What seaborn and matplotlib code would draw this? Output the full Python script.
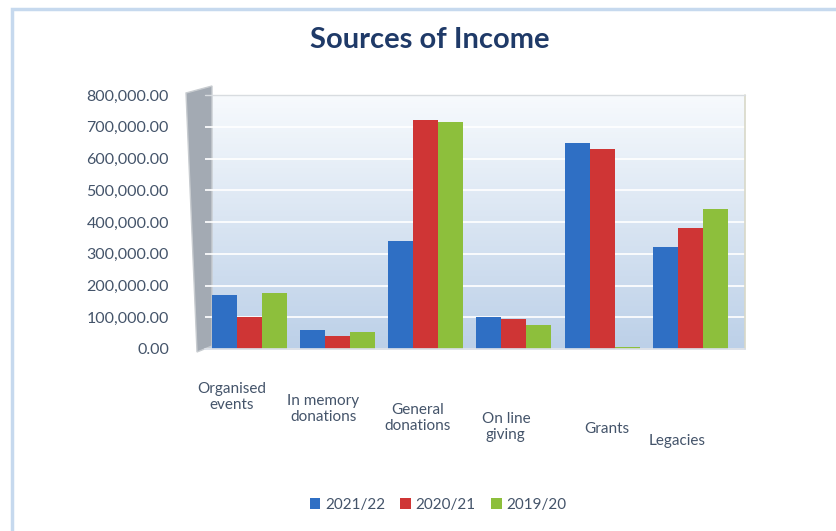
import numpy as np
import pandas as pd
import matplotlib
matplotlib.use("Agg")
import matplotlib.pyplot as plt
import matplotlib.transforms as mtransforms
from matplotlib.patches import Polygon, Rectangle
from matplotlib.ticker import FuncFormatter
import seaborn as sns

# ---- data ----
categories = ["Organised\nevents", "In memory\ndonations", "General\ndonations",
              "On line\ngiving", "Grants", "Legacies"]
years = ["2021/22", "2020/21", "2019/20"]
v_2021_22 = [170000, 60000, 340000, 100000, 650000, 320000]
v_2020_21 = [100000, 40000, 720000, 95000, 630000, 380000]
v_2019_20 = [175000, 55000, 715000, 75000, 5000, 440000]
y_ticks = [0, 100000, 200000, 300000, 400000, 500000, 600000, 700000, 800000]

df = pd.DataFrame({
    "category": categories * 3,
    "year": [years[0]] * 6 + [years[1]] * 6 + [years[2]] * 6,
    "value": v_2021_22 + v_2020_21 + v_2019_20,
})

# ---- style ----
sns.set_theme(style="white")
plt.rcParams["font.family"] = ["Lato", "DejaVu Sans"]
TXT = "#44546A"
palette = {"2021/22": "#2F6FC4", "2020/21": "#CF3535", "2019/20": "#8DBF3C"}

W, H = 836, 531
fig = plt.figure(figsize=(W / 100, H / 100), dpi=100)
fig.patch.set_facecolor("white")

def fx(px):
    return px / W

def fy(py):
    return 1 - py / H

# chart area border (light blue)
fig.patches.append(Rectangle((fx(12), fy(540)), fx(900), fy(9) - fy(540),
                             transform=fig.transFigure, fill=False,
                             edgecolor="#C6D9EE", linewidth=2.5, zorder=0))

left_px, right_px, top_px, bot_px = 205, 745, 95, 349
pos = [fx(left_px), fy(bot_px), fx(right_px) - fx(left_px), fy(top_px) - fy(bot_px)]

# gradient background axes
bg = fig.add_axes(pos, zorder=0)
grad = np.linspace(0, 1, 256).reshape(-1, 1)
cmap = matplotlib.colors.LinearSegmentedColormap.from_list("g", ["#F7FAFD", "#BCD0E8"])
bg.imshow(grad, aspect="auto", cmap=cmap, extent=[0, 1, 0, 1], origin="upper")
bg.set_axis_off()

# left grey wall
fig.patches.append(Polygon([(fx(186), fy(93)), (fx(212), fy(86)), (fx(212), fy(346)),
                            (fx(197), fy(352))], closed=True, transform=fig.transFigure,
                           facecolor="#A3AAB3", edgecolor="#C8CCD0", linewidth=1, zorder=1))

ax = fig.add_axes(pos, zorder=2)
ax.set_facecolor("none")
sns.barplot(data=df, x="category", y="value", hue="year", hue_order=years,
            palette=palette, width=0.85, ax=ax, saturation=1, legend=True,
            edgecolor="none", errorbar=None)

ax.set_ylim(0, 800000)
ax.set_xlim(-0.5, 5.62)
ax.set_yticks(y_ticks)
ax.yaxis.set_major_formatter(FuncFormatter(lambda v, p: f"{v:,.2f}"))
ax.grid(axis="y", color="white", linewidth=1.3, alpha=0.95)
ax.set_axisbelow(True)
for s in ax.spines.values():
    s.set_visible(False)
ax.spines["bottom"].set_visible(True)
ax.spines["bottom"].set_color("#D9DEE6")
ax.tick_params(axis="y", length=0, pad=26, labelsize=11.5, labelcolor=TXT)
ax.tick_params(axis="x", length=0, pad=24, labelsize=11, labelcolor=TXT)
ax.set_xlabel("")
ax.set_ylabel("")

# perspective-like offsets for category labels (pixels)
label_dx = [-17, -14, -8, -8, 5, -13]
label_dy = [0, 12, 21, 30, 40, 52]
for lab, dx, dy in zip(ax.get_xticklabels(), label_dx, label_dy):
    lab.set_transform(lab.get_transform() +
                      mtransforms.ScaledTranslation(dx / 100, -dy / 100, fig.dpi_scale_trans))
    lab.set_linespacing(1.15)

# right edge of back wall
ax.plot([1.0, 1.0], [0, 1], transform=ax.transAxes, color="#D8D8C8", lw=1.2, clip_on=False)
ax.plot([0.0, 1.0], [1.0, 1.0], transform=ax.transAxes, color="#D8DCE0", lw=1.0, clip_on=False)

# legend
handles, labels = ax.get_legend_handles_labels()
ax.legend_.remove()
fig.legend(handles, labels, loc="center", bbox_to_anchor=(fx(438), fy(505)), ncol=3,
           frameon=False, fontsize=11, labelcolor=TXT, handlelength=0.7,
           handleheight=0.7, handletextpad=0.3, columnspacing=1.0)

fig.text(fx(430), fy(40), "Sources of Income", ha="center", va="center",
         fontsize=21, fontweight="bold", color="#1F3A68")

fig.savefig("out.png", dpi=100)
